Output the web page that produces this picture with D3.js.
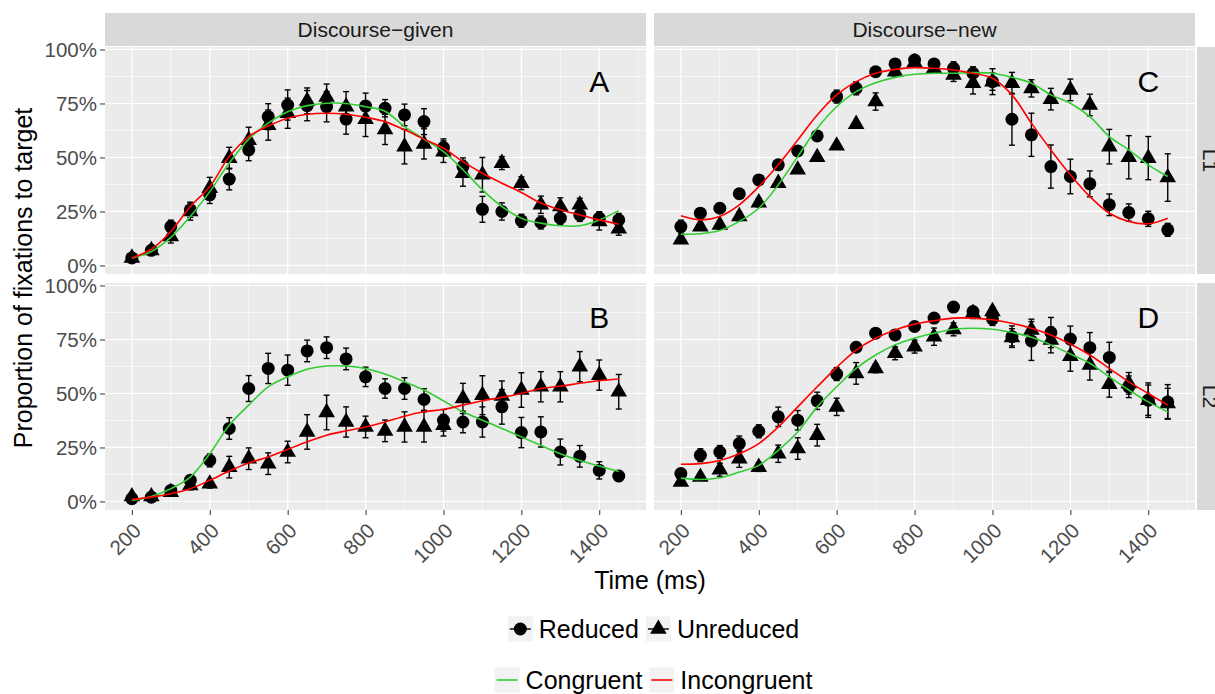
<!DOCTYPE html>
<html>
<head>
<meta charset="utf-8">
<script src="https://cdn.jsdelivr.net/npm/d3@7"></script>
<style>
  body { margin: 0; background: #fff; }
  svg { display: block; }
  text { font-family: "Liberation Sans", Arial, sans-serif; }
</style>
</head>
<body>
<svg id="chart" width="1215" height="694"></svg>
<script>
// time bins (ms)
const times = [200, 250, 300, 350, 400, 450, 500, 550, 600, 650, 700, 750, 800,
  850, 900, 950, 1000, 1050, 1100, 1150, 1200, 1250, 1300, 1350, 1400, 1450];

const colLabels = ['Discourse\u2212given', 'Discourse\u2212new'];
const rowLabels = ['L1', 'L2'];
const panelLetters = ['A', 'B', 'C', 'D'];
const xTicks = [200, 400, 600, 800, 1000, 1200, 1400];
const yTicks = [0, 0.25, 0.5, 0.75, 1];

// A: discourse-given, L1
const aReduced = [0.035, 0.07, 0.18, 0.258, 0.327, 0.40, 0.535, 0.689, 0.743, 0.74, 0.735, 0.678, 0.738,
  0.728, 0.697, 0.666, 0.546, 0.458, 0.26, 0.25, 0.207, 0.199, 0.219, 0.234, 0.219, 0.211];
const aReducedErr = [0.01, 0.015, 0.03, 0.035, 0.04, 0.05, 0.05, 0.06, 0.07, 0.07, 0.07, 0.07, 0.06,
  0.04, 0.05, 0.06, 0.04, 0.04, 0.06, 0.04, 0.03, 0.03, 0.03, 0.03, 0.03, 0.03];
const aUnreduced = [0.035, 0.07, 0.134, 0.25, 0.358, 0.497, 0.58, 0.65, 0.705, 0.762, 0.78, 0.735, 0.677,
  0.63, 0.55, 0.563, 0.527, 0.427, 0.42, 0.474, 0.381, 0.281, 0.273, 0.281, 0.204, 0.17];
const aUnreducedErr = [0.01, 0.015, 0.03, 0.04, 0.05, 0.05, 0.06, 0.07, 0.07, 0.06, 0.06, 0.07, 0.08,
  0.07, 0.08, 0.07, 0.05, 0.06, 0.08, 0.03, 0.03, 0.04, 0.04, 0.03, 0.04, 0.03];
const aCongruent = [0.034, 0.065, 0.13, 0.227, 0.342, 0.474, 0.585, 0.659, 0.712, 0.74, 0.751, 0.75, 0.735,
  0.714, 0.643, 0.585, 0.527, 0.443, 0.35, 0.273, 0.219, 0.196, 0.184, 0.184, 0.211, 0.254];
const aIncongruent = [0.035, 0.075, 0.157, 0.273, 0.365, 0.504, 0.597, 0.646, 0.682, 0.70, 0.705, 0.70, 0.686,
  0.666, 0.628, 0.585, 0.543, 0.481, 0.427, 0.381, 0.338, 0.289, 0.258, 0.234, 0.211, 0.191];

// B: discourse-given, L2
const bReduced = [0.013, 0.02, 0.051, 0.098, 0.19, 0.338, 0.523, 0.616, 0.608, 0.697, 0.712, 0.66, 0.577,
  0.523, 0.523, 0.472, 0.376, 0.368, 0.368, 0.438, 0.319, 0.322, 0.229, 0.209, 0.144, 0.118];
const bReducedErr = [0.01, 0.01, 0.015, 0.02, 0.03, 0.05, 0.06, 0.07, 0.07, 0.05, 0.05, 0.05, 0.045,
  0.045, 0.05, 0.05, 0.05, 0.05, 0.07, 0.08, 0.07, 0.07, 0.06, 0.05, 0.04, 0.025];
const bUnreduced = [0.023, 0.023, 0.043, 0.074, 0.082, 0.159, 0.198, 0.175, 0.229, 0.322, 0.412, 0.368, 0.345,
  0.327, 0.345, 0.345, 0.353, 0.477, 0.492, 0.488, 0.516, 0.531, 0.531, 0.624, 0.585, 0.508];
const bUnreducedErr = [0.01, 0.01, 0.015, 0.02, 0.02, 0.05, 0.05, 0.05, 0.05, 0.08, 0.08, 0.07, 0.05,
  0.05, 0.07, 0.07, 0.05, 0.07, 0.09, 0.07, 0.08, 0.07, 0.07, 0.07, 0.07, 0.08];
const bCongruent = [0.005, 0.023, 0.059, 0.113, 0.221, 0.353, 0.446, 0.531, 0.577, 0.612, 0.627, 0.627, 0.616,
  0.59, 0.554, 0.516, 0.466, 0.415, 0.376, 0.338, 0.299, 0.26, 0.221, 0.19, 0.164, 0.139];
const bIncongruent = [0.009, 0.02, 0.036, 0.059, 0.098, 0.141, 0.178, 0.206, 0.241, 0.276, 0.307, 0.327, 0.345,
  0.368, 0.395, 0.415, 0.426, 0.446, 0.466, 0.482, 0.5, 0.523, 0.534, 0.547, 0.559, 0.567];

// C: discourse-new, L1
const cReduced = [0.18, 0.242, 0.265, 0.332, 0.396, 0.466, 0.53, 0.60, 0.782, 0.82, 0.897, 0.933, 0.951,
  0.933, 0.913, 0.89, 0.851, 0.677, 0.605, 0.458, 0.412, 0.378, 0.281, 0.245, 0.216, 0.165];
const cReducedErr = [0.03, 0.02, 0.02, 0.015, 0.015, 0.015, 0.015, 0.02, 0.03, 0.03, 0.02, 0.02, 0.02,
  0.02, 0.03, 0.03, 0.06, 0.12, 0.1, 0.1, 0.08, 0.06, 0.05, 0.04, 0.035, 0.03];
const cUnreduced = [0.119, 0.18, 0.188, 0.227, 0.291, 0.381, 0.443, 0.501, 0.554, 0.654, 0.759, 0.897, 0.94,
  0.912, 0.882, 0.844, 0.851, 0.844, 0.82, 0.77, 0.813, 0.743, 0.55, 0.501, 0.497, 0.407];
const cUnreducedErr = [0.01, 0.015, 0.02, 0.02, 0.02, 0.015, 0.015, 0.015, 0.015, 0.015, 0.04, 0.02, 0.02,
  0.02, 0.03, 0.05, 0.04, 0.05, 0.04, 0.05, 0.05, 0.05, 0.08, 0.1, 0.1, 0.11];
const cCongruent = [0.145, 0.147, 0.162, 0.204, 0.265, 0.373, 0.504, 0.635, 0.735, 0.805, 0.846, 0.871, 0.885,
  0.89, 0.89, 0.893, 0.89, 0.871, 0.844, 0.79, 0.751, 0.689, 0.597, 0.535, 0.466, 0.412];
const cIncongruent = [0.23, 0.211, 0.227, 0.281, 0.365, 0.466, 0.581, 0.697, 0.79, 0.851, 0.89, 0.908, 0.916,
  0.913, 0.905, 0.89, 0.867, 0.79, 0.659, 0.535, 0.42, 0.319, 0.242, 0.204, 0.193, 0.219];

// D: discourse-new, L2
const dReduced = [0.129, 0.214, 0.229, 0.268, 0.325, 0.392, 0.376, 0.466, 0.59, 0.714, 0.779, 0.771, 0.81,
  0.849, 0.9, 0.879, 0.845, 0.763, 0.743, 0.782, 0.752, 0.712, 0.667, 0.531, 0.469, 0.461];
const dReducedErr = [0.02, 0.03, 0.03, 0.035, 0.03, 0.045, 0.045, 0.04, 0.03, 0.02, 0.02, 0.02, 0.02,
  0.015, 0.015, 0.02, 0.03, 0.05, 0.09, 0.07, 0.06, 0.07, 0.07, 0.05, 0.07, 0.08];
const dUnreduced = [0.09, 0.113, 0.147, 0.198, 0.159, 0.221, 0.245, 0.307, 0.438, 0.593, 0.616, 0.686, 0.717,
  0.763, 0.797, 0.872, 0.88, 0.76, 0.794, 0.748, 0.673, 0.632, 0.543, 0.547, 0.469, 0.454];
const dUnreducedErr = [0.01, 0.015, 0.03, 0.04, 0.02, 0.04, 0.05, 0.05, 0.04, 0.05, 0.02, 0.03, 0.03,
  0.04, 0.03, 0.025, 0.02, 0.04, 0.05, 0.06, 0.07, 0.07, 0.06, 0.05, 0.08, 0.07];
const dCongruent = [0.108, 0.102, 0.11, 0.136, 0.167, 0.237, 0.322, 0.438, 0.531, 0.616, 0.678, 0.725, 0.756,
  0.779, 0.797, 0.802, 0.797, 0.782, 0.76, 0.725, 0.683, 0.64, 0.577, 0.516, 0.461, 0.415];
const dIncongruent = [0.172, 0.175, 0.19, 0.221, 0.268, 0.345, 0.438, 0.531, 0.621, 0.701, 0.756, 0.794, 0.821,
  0.837, 0.849, 0.849, 0.841, 0.825, 0.802, 0.771, 0.729, 0.678, 0.616, 0.554, 0.5, 0.446];

const panels = [
  { col: 0, row: 0, red: aReduced, redErr: aReducedErr, unr: aUnreduced, unrErr: aUnreducedErr, con: aCongruent, inc: aIncongruent },
  { col: 0, row: 1, red: bReduced, redErr: bReducedErr, unr: bUnreduced, unrErr: bUnreducedErr, con: bCongruent, inc: bIncongruent },
  { col: 1, row: 0, red: cReduced, redErr: cReducedErr, unr: cUnreduced, unrErr: cUnreducedErr, con: cCongruent, inc: cIncongruent },
  { col: 1, row: 1, red: dReduced, redErr: dReducedErr, unr: dUnreduced, unrErr: dUnreducedErr, con: dCongruent, inc: dIncongruent }
];

const GREEN = '#32CD32', RED = '#FF0000';
const svg = d3.select('#chart');

const panelW = 541, panelH = 227;
const colLeft = [105, 654], rowTop = [47, 283];

const x = d3.scaleLinear().domain([131, 1520]).range([0, panelW]);
const y = d3.scaleLinear().domain([-0.0395, 1.0115]).range([panelH, 0]);

const line = d3.line()
  .x((d, i) => x(times[i]))
  .y(d => y(d))
  .curve(d3.curveCatmullRom.alpha(0.5));

const tri = d3.symbol().type(d3.symbolTriangle).size(120);

// column strips on top
colLabels.forEach((lab, c) => {
  const g = svg.append('g').attr('transform', `translate(${colLeft[c]},13)`);
  g.append('rect').attr('width', panelW).attr('height', 33).attr('fill', '#D9D9D9');
  g.append('text')
    .attr('x', panelW / 2).attr('y', 16.5).attr('dy', '0.35em')
    .attr('text-anchor', 'middle').attr('font-size', 21).attr('fill', '#1A1A1A')
    .text(lab);
});

// row strips on the right (cut by the frame, as in the original)
rowLabels.forEach((lab, r) => {
  const g = svg.append('g').attr('transform', `translate(1197,${rowTop[r]})`);
  g.append('rect').attr('width', 30).attr('height', panelH).attr('fill', '#D9D9D9');
  g.append('text')
    .attr('transform', `translate(6,${panelH / 2}) rotate(90)`)
    .attr('text-anchor', 'middle').attr('font-size', 21).attr('fill', '#1A1A1A')
    .text(lab);
});

panels.forEach((p, i) => {
  const g = svg.append('g').attr('transform', `translate(${colLeft[p.col]},${rowTop[p.row]})`);

  g.append('rect').attr('width', panelW).attr('height', panelH).attr('fill', '#EBEBEB');

  // minor grid
  const xMinor = [300, 500, 700, 900, 1100, 1300, 1500];
  const yMinor = [0.125, 0.375, 0.625, 0.875];
  g.selectAll('.xminor').data(xMinor).join('line')
    .attr('x1', d => x(d)).attr('x2', d => x(d)).attr('y1', 0).attr('y2', panelH)
    .attr('stroke', '#fff').attr('stroke-width', 0.6);
  g.selectAll('.yminor').data(yMinor).join('line')
    .attr('x1', 0).attr('x2', panelW).attr('y1', d => y(d)).attr('y2', d => y(d))
    .attr('stroke', '#fff').attr('stroke-width', 0.6);
  // major grid
  g.selectAll('.xmajor').data(xTicks).join('line')
    .attr('x1', d => x(d)).attr('x2', d => x(d)).attr('y1', 0).attr('y2', panelH)
    .attr('stroke', '#fff').attr('stroke-width', 1.2);
  g.selectAll('.ymajor').data(yTicks).join('line')
    .attr('x1', 0).attr('x2', panelW).attr('y1', d => y(d)).attr('y2', d => y(d))
    .attr('stroke', '#fff').attr('stroke-width', 1.2);

  // error bars
  const bars = (vals, errs) => {
    const eb = g.append('g').attr('stroke', '#000').attr('stroke-width', 1.4).attr('fill', 'none');
    vals.forEach((v, k) => {
      const cx = x(times[k]), lo = y(v - errs[k]), hi = y(v + errs[k]);
      eb.append('line').attr('x1', cx).attr('x2', cx).attr('y1', lo).attr('y2', hi);
      eb.append('line').attr('x1', cx - 3).attr('x2', cx + 3).attr('y1', lo).attr('y2', lo);
      eb.append('line').attr('x1', cx - 3).attr('x2', cx + 3).attr('y1', hi).attr('y2', hi);
    });
  };
  bars(p.red, p.redErr);
  bars(p.unr, p.unrErr);

  g.append('g').selectAll('circle').data(p.red).join('circle')
    .attr('cx', (d, k) => x(times[k])).attr('cy', d => y(d)).attr('r', 6.5).attr('fill', '#000');
  g.append('g').selectAll('path').data(p.unr).join('path')
    .attr('d', tri).attr('transform', (d, k) => `translate(${x(times[k])},${y(d)})`).attr('fill', '#000');

  // smooth fits
  g.append('path').datum(p.con).attr('d', line)
    .attr('fill', 'none').attr('stroke', GREEN).attr('stroke-width', 1.6);
  g.append('path').datum(p.inc).attr('d', line)
    .attr('fill', 'none').attr('stroke', RED).attr('stroke-width', 1.6);

  g.append('text')
    .attr('x', x(1400)).attr('y', y(0.85)).attr('dy', '0.35em')
    .attr('text-anchor', 'middle').attr('font-size', 30).attr('fill', '#000')
    .text(panelLetters[i]);

  // y axis on left column
  if (p.col === 0) {
    const ya = g.append('g').call(d3.axisLeft(y).tickValues(yTicks)
      .tickFormat(d3.format('.0%')).tickSize(5).tickPadding(3));
    ya.select('.domain').remove();
    ya.selectAll('line').attr('stroke', '#333');
    ya.selectAll('text').attr('font-size', 20.5).attr('fill', '#4D4D4D')
      .attr('font-family', '"Liberation Sans", Arial, sans-serif');
  }
  // x axis on bottom row
  if (p.row === 1) {
    const xa = g.append('g').attr('transform', `translate(0,${panelH})`)
      .call(d3.axisBottom(x).tickValues(xTicks).tickFormat(d3.format('d')).tickSize(5));
    xa.select('.domain').remove();
    xa.selectAll('line').attr('stroke', '#333');
    xa.selectAll('text')
      .attr('y', null).attr('dy', null)
      .attr('transform', 'translate(10,22) rotate(-45)')
      .attr('text-anchor', 'end')
      .attr('font-size', 20.5).attr('fill', '#4D4D4D')
      .attr('font-family', '"Liberation Sans", Arial, sans-serif');
  }
});

// axis titles
svg.append('text')
  .attr('x', 650).attr('y', 589).attr('text-anchor', 'middle')
  .attr('font-size', 25).attr('fill', '#000').text('Time (ms)');
svg.append('text')
  .attr('transform', 'translate(32,278) rotate(-90)').attr('text-anchor', 'middle')
  .attr('font-size', 25).attr('fill', '#000').text('Proportion of fixations to target');

// legends
const legendCenter = 653.5;
const keySize = 25;

function legendRow(cy, items) {
  const g = svg.append('g');
  let cursor = 0;
  items.forEach(it => {
    const key = g.append('g').attr('transform', `translate(${cursor},${cy - keySize / 2})`);
    key.append('rect').attr('width', keySize).attr('height', keySize).attr('fill', '#F2F2F2');
    it.draw(key);
    cursor += keySize + 6;
    const t = g.append('text').attr('x', cursor).attr('y', cy).attr('dy', '0.36em')
      .attr('font-size', 25).attr('fill', '#000').text(it.label);
    cursor += t.node().getComputedTextLength() + 7;
  });
  const width = cursor - 7;
  g.attr('transform', `translate(${legendCenter - width / 2},0)`);
}

legendRow(629, [
  { label: 'Reduced', draw: k => {
      k.append('line').attr('x1', 2).attr('x2', keySize - 2).attr('y1', keySize / 2).attr('y2', keySize / 2)
        .attr('stroke', '#000').attr('stroke-width', 1.4);
      k.append('circle').attr('cx', keySize / 2).attr('cy', keySize / 2).attr('r', 6.5).attr('fill', '#000');
    } },
  { label: 'Unreduced', draw: k => {
      k.append('line').attr('x1', 2).attr('x2', keySize - 2).attr('y1', keySize / 2).attr('y2', keySize / 2)
        .attr('stroke', '#000').attr('stroke-width', 1.4);
      k.append('path').attr('d', tri).attr('transform', `translate(${keySize / 2},${keySize / 2})`).attr('fill', '#000');
    } }
]);

legendRow(680, [
  { label: 'Congruent', draw: k => {
      k.append('line').attr('x1', 2).attr('x2', keySize - 2).attr('y1', keySize / 2).attr('y2', keySize / 2)
        .attr('stroke', GREEN).attr('stroke-width', 1.6);
    } },
  { label: 'Incongruent', draw: k => {
      k.append('line').attr('x1', 2).attr('x2', keySize - 2).attr('y1', keySize / 2).attr('y2', keySize / 2)
        .attr('stroke', RED).attr('stroke-width', 1.6);
    } }
]);
</script>
</body>
</html>
